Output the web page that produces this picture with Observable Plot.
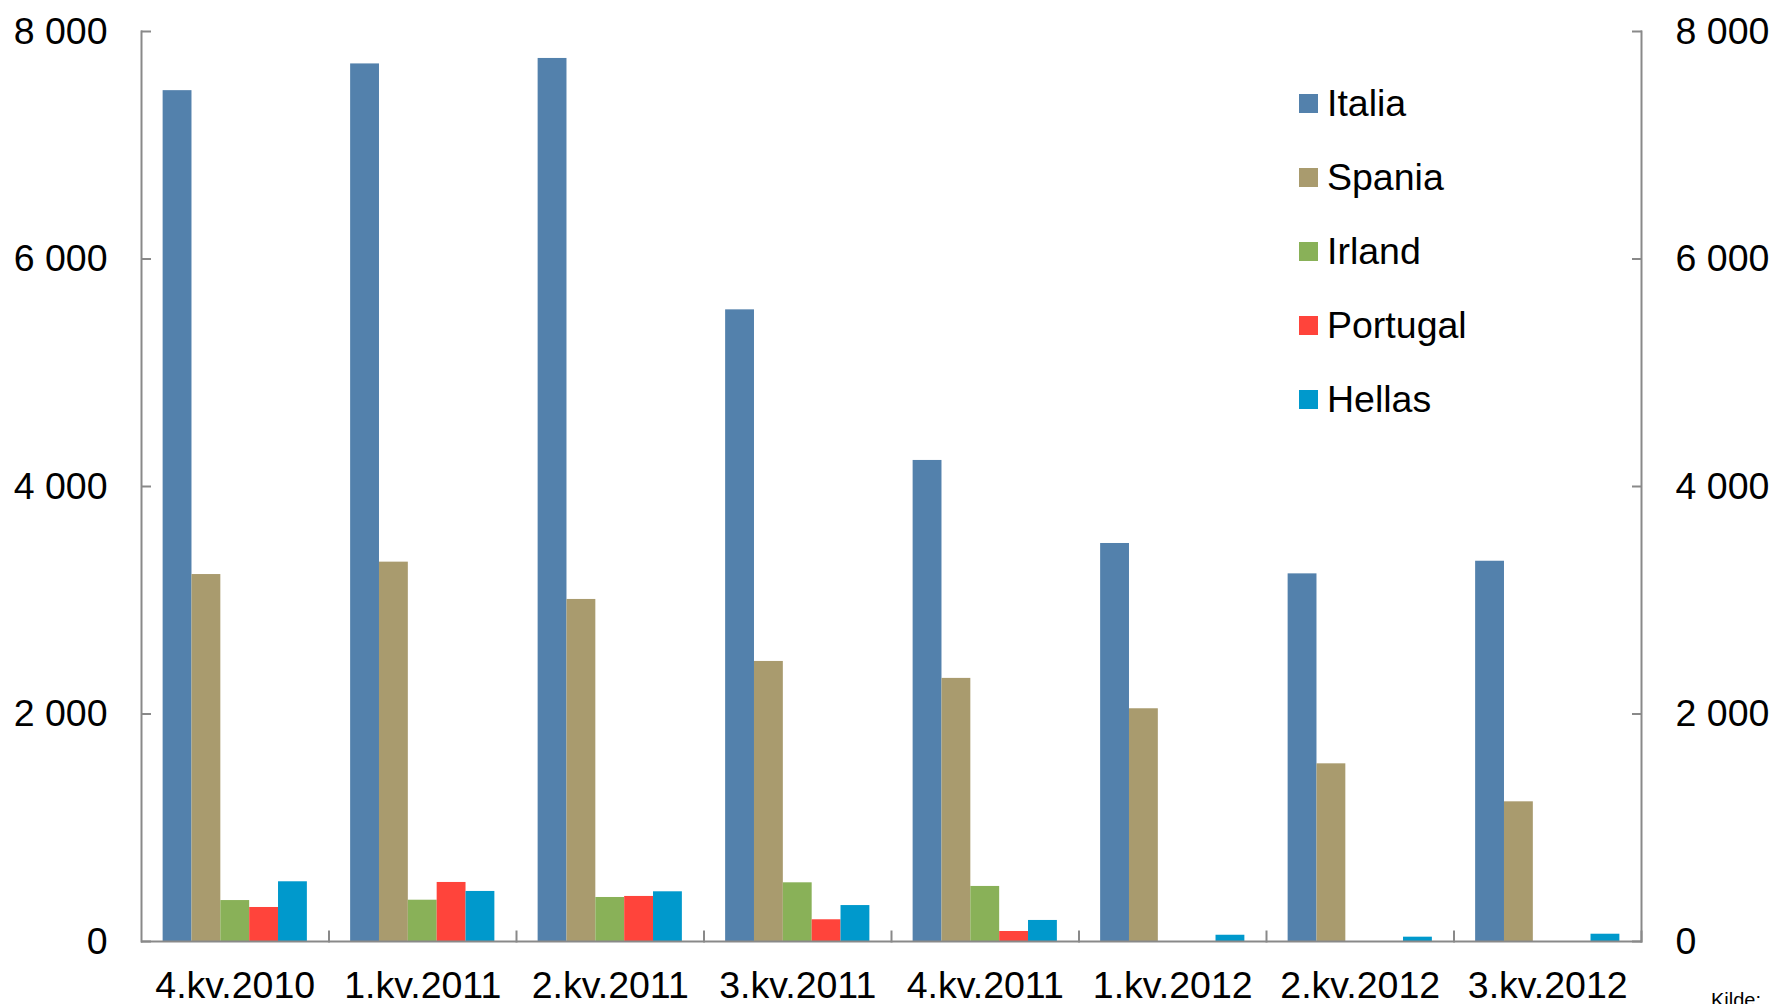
<!DOCTYPE html>
<html>
<head>
<meta charset="utf-8">
<script src="https://cdn.jsdelivr.net/npm/d3@7"></script>
<script src="https://cdn.jsdelivr.net/npm/@observablehq/plot@0.6"></script>
<style>
html, body { margin: 0; padding: 0; background: #fff; overflow: hidden; }
#wrap { position: relative; width: 1771px; height: 1004px; font-family: "Liberation Sans", Arial, sans-serif; color: #000; }
#chart svg { display: block; }
#legend { position: absolute; left: 1299px; top: 67px; }
.item { display: flex; align-items: center; height: 73.8px; font-size: 37.5px; white-space: nowrap; }
.sw { width: 19px; height: 19px; margin-right: 9px; flex: none; }
#kilde { position: absolute; left: 1711px; top: 990px; font-size: 20px; line-height: 20px; white-space: nowrap; }
</style>
</head>
<body>
<div id="wrap">
  <div id="chart"></div>
  <div id="legend"></div>
  <div id="kilde">Kilde:</div>
</div>
<script>
// Categories
const quarters = ["4.kv.2010", "1.kv.2011", "2.kv.2011", "3.kv.2011", "4.kv.2011", "1.kv.2012", "2.kv.2012", "3.kv.2012"];
const countries = ["Italia", "Spania", "Irland", "Portugal", "Hellas"];
const colors = ["#5381ac", "#a99b6e", "#89b158", "#ff443b", "#0099cc"];

// Series values
const italia   = [7480, 7715, 7763, 5553, 4229, 3499, 3232, 3343];
const spania   = [3226, 3335, 3007, 2462, 2313, 2046, 1562, 1228];
const irland   = [360, 363, 387, 516, 484, 0, 0, 0];
const portugal = [299, 519, 396, 191, 88, 0, 0, 0];
const hellas   = [525, 440, 437, 316, 185, 55, 38, 64];

// Tick values
const yTicks = [0, 2000, 4000, 6000, 8000];

const series = [italia, spania, irland, portugal, hellas];
const data = quarters.flatMap((q, i) => countries.map((c, j) => ({quarter: q, country: c, value: series[j][i]})));

const fmt = d => d3.format(",")(d).replace(/,/g, " ");
const axisGray = "#898989";
const fs = 37.5;

const plot = Plot.plot({
  width: 1771,
  height: 1004,
  marginTop: 31,
  marginBottom: 63,
  marginLeft: 141,
  marginRight: 130,
  style: {fontFamily: "Liberation Sans, Arial, sans-serif", fontSize: fs + "px", background: "white", color: "black", overflow: "visible"},
  fx: {domain: quarters, padding: 0, round: false, axis: null},
  x: {domain: countries, paddingInner: 0, paddingOuter: 0.75, round: false, axis: null},
  y: {domain: [0, 8000], axis: null},
  color: {domain: countries, range: colors},
  marks: [
    Plot.barY(data, {fx: "quarter", x: "country", y: "value", fill: "country"}),
    Plot.ruleY([0], {stroke: axisGray, strokeWidth: 2}),
    Plot.frame({anchor: "right", insetTop: 900, stroke: axisGray, strokeWidth: 2}),
    Plot.frame({anchor: "left", facetAnchor: "left", stroke: axisGray, strokeWidth: 2}),
    Plot.frame({anchor: "right", facetAnchor: "right", stroke: axisGray, strokeWidth: 2}),
    Plot.axisY({anchor: "left", ticks: yTicks, tickFormat: fmt, tickSize: -10, tickPadding: 44, stroke: axisGray, fill: "black", strokeWidth: 2, fontSize: fs, label: null}),
    Plot.axisY({anchor: "right", ticks: yTicks, tickFormat: fmt, tickSize: -10, tickPadding: 44, stroke: axisGray, fill: "black", strokeWidth: 2, fontSize: fs, label: null}),
    Plot.axisFx({anchor: "bottom", tickSize: 0, tickPadding: 30, fontSize: fs, label: null})
  ]
});
document.getElementById("chart").appendChild(plot);

// Legend
const legend = d3.select("#legend");
countries.forEach((c, i) => {
  const item = legend.append("div").attr("class", "item");
  item.append("div").attr("class", "sw").style("background", colors[i]);
  item.append("span").text(c);
});
</script>
</body>
</html>
